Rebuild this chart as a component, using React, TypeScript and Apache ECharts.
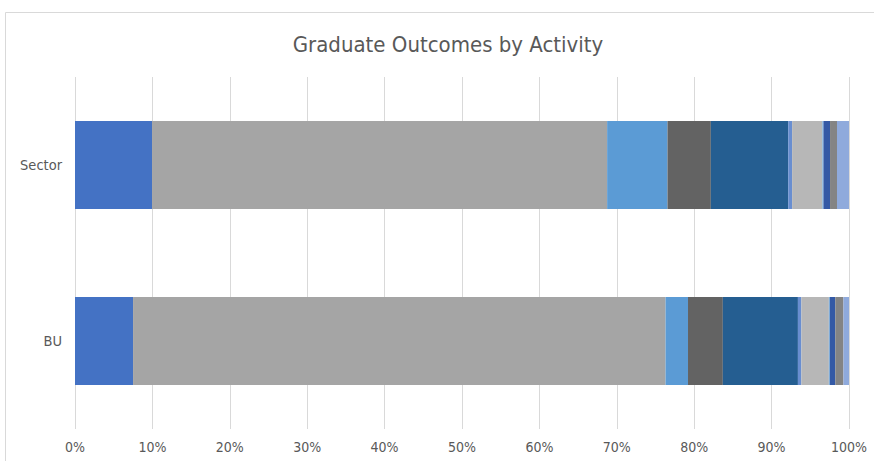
import React, { useEffect, useRef } from "react";
import * as echarts from "echarts";

const categories = ["BU", "Sector"];
const seriesNames = ["A1", "A2", "A3", "A4", "A5", "A6", "A7", "A8", "A9", "A10", "A11"];
const buValues = [7.5, 68.8, 2.9, 4.5, 9.7, 0.45, 3.55, 0.13, 0.7, 1.05, 0.72];
const sectorValues = [9.95, 58.8, 7.8, 5.6, 10.0, 0.5, 3.9, 0.15, 0.85, 0.9, 1.55];
const colors = ["#4472C4", "#A5A5A5", "#5B9BD5", "#636363", "#255E91", "#698ED0", "#B7B7B7", "#7CAFDD", "#3459A5", "#848484", "#8FAADC"];
const tickLabels = ["0%", "10%", "20%", "30%", "40%", "50%", "60%", "70%", "80%", "90%", "100%"];
const title = "Graduate Outcomes by Activity";

const FONT = '"Liberation Sans Narrow", "DejaVu Sans Condensed", "Liberation Sans", sans-serif';

export default function App() {
  const ref = useRef<HTMLDivElement>(null);
  useEffect(() => {
    if (!ref.current) return;
    const chart = echarts.init(ref.current, undefined, { renderer: "svg" });
    chart.setOption({
      animation: false,
      backgroundColor: "#ffffff",
      title: {
        text: title,
        left: 443,
        textAlign: "center",
        top: 28,
        textStyle: { fontFamily: FONT, fontSize: 22, fontWeight: "normal", color: "#595959" },
      },
      graphic: [
        {
          type: "rect",
          shape: { x: 5.5, y: 12.5, width: 900, height: 500 },
          style: { fill: "none", stroke: "#D9D9D9", lineWidth: 1 },
          silent: true,
          z: -1,
        },
      ],
      grid: { left: 75, right: 25, top: 77, bottom: 32, containLabel: false },
      xAxis: {
        type: "value",
        min: 0,
        max: 100,
        interval: 10,
        axisLine: { show: false },
        axisTick: { show: false },
        splitLine: { show: true, lineStyle: { color: "#D9D9D9", width: 1 } },
        axisLabel: {
          formatter: (v: number) => tickLabels[Math.round(v / 10)],
          fontFamily: FONT,
          fontSize: 14,
          color: "#595959",
          margin: 11,
        },
      },
      yAxis: {
        type: "category",
        data: categories,
        axisLine: { show: false },
        axisTick: { show: false },
        axisLabel: { fontFamily: FONT, fontSize: 14.5, color: "#595959", margin: 13 },
      },
      series: seriesNames.map((name, i) => ({
        name,
        type: "bar",
        stack: "total",
        barWidth: "50%",
        itemStyle: { color: colors[i] },
        data: [buValues[i], sectorValues[i]],
      })),
    });
    return () => chart.dispose();
  }, []);
  return <div ref={ref} style={{ position: "fixed", left: 0, top: 0, width: 874, height: 461 }} />;
}
